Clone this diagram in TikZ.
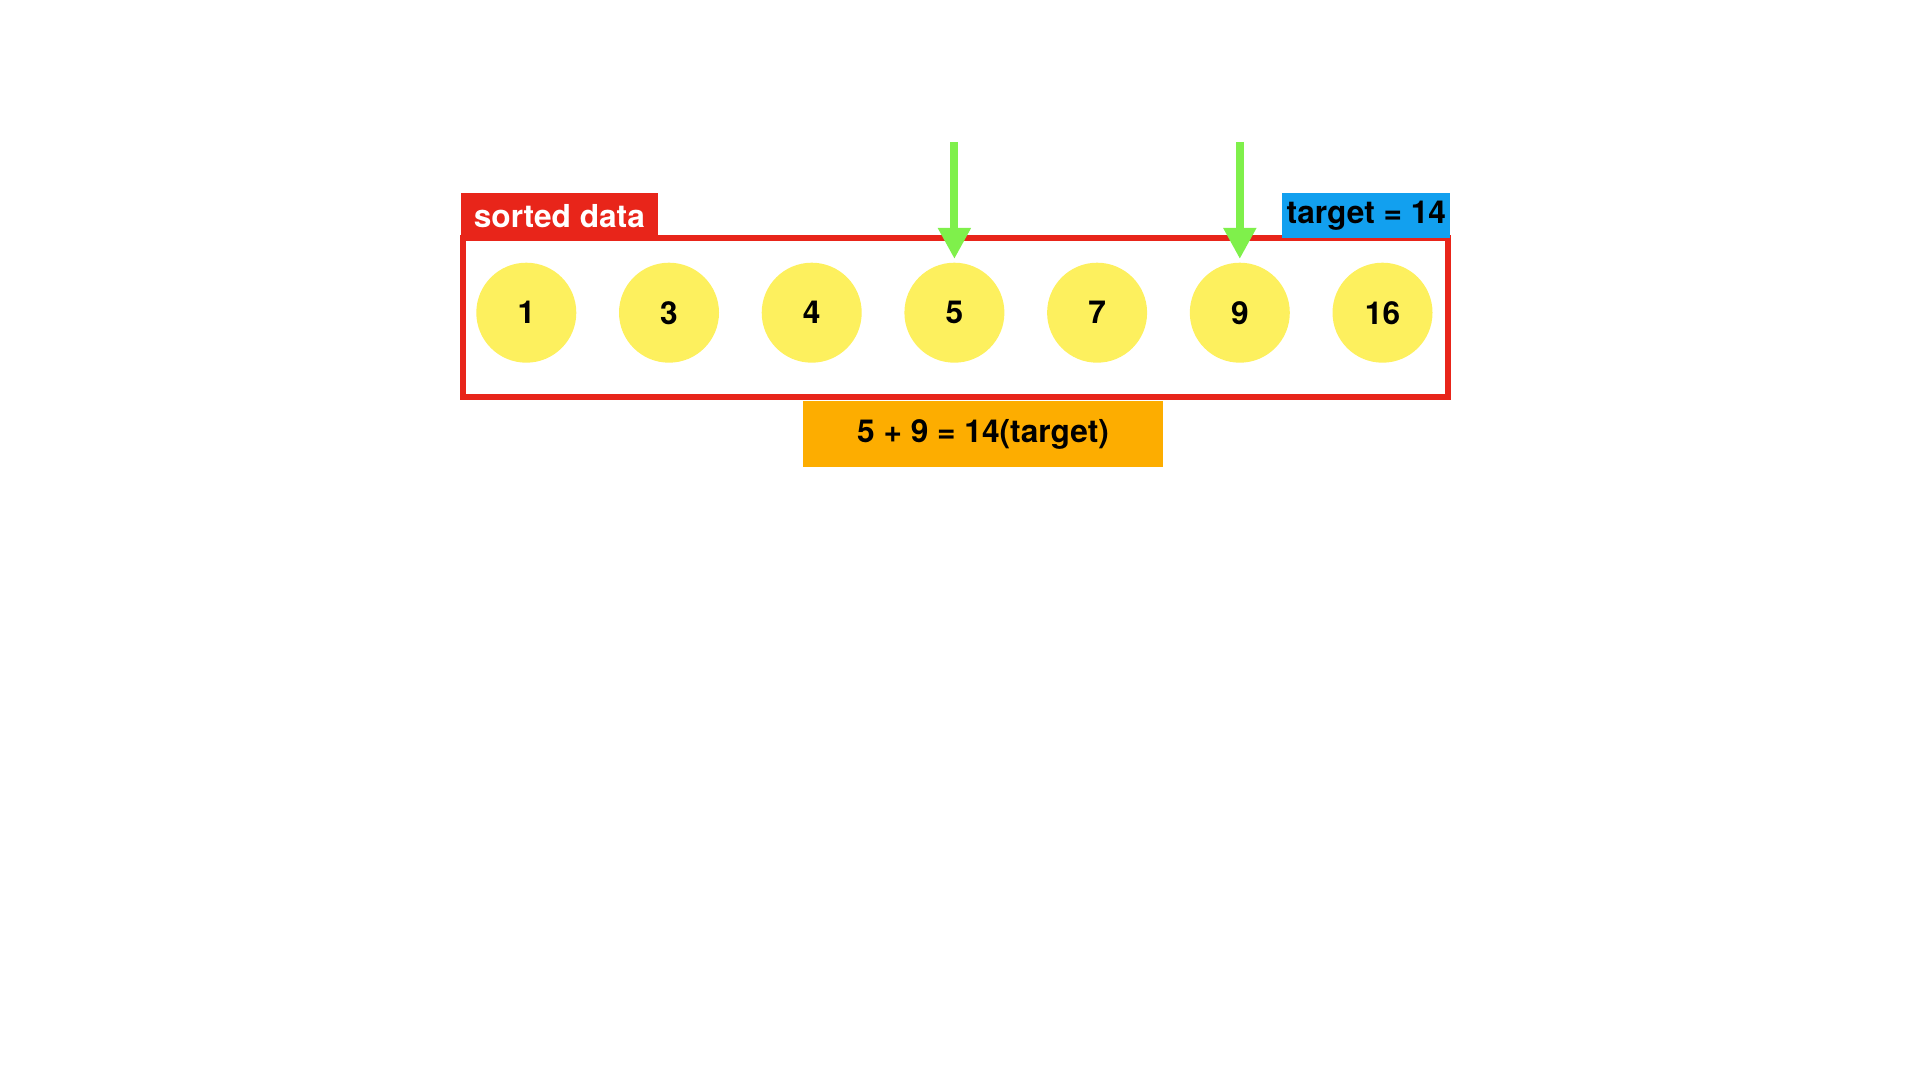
\documentclass[tikz,border=0pt]{standalone}
\usepackage{fontspec}
\setmainfont{TeX Gyre Heros}
\usepackage{tikz}
\usetikzlibrary{arrows.meta, positioning}
\definecolor{pairred}{HTML}{E8251A}
\definecolor{pairyellow}{HTML}{FDF05E}
\definecolor{pairgreen}{HTML}{7FF04B}
\definecolor{pairorange}{HTML}{FDAD00}
\definecolor{pairblue}{HTML}{12A0EF}

\begin{document}
\begin{tikzpicture}[font=\fontsize{9}{11}\selectfont\bfseries,
  ball/.style={circle, fill=pairyellow, minimum size=1cm, inner sep=0pt},
  tag/.style={inner sep=0pt, minimum height=0.45cm},
  pointer/.style={draw=pairgreen, line width=0.08cm, shorten >=0.03cm,
    -{Triangle[length=0.31cm, width=0.31cm]}}]
  \useasboundingbox (0,0) rectangle (19.2,-10.8);
  \def\cx{5.263} % first ball
  \def\dx{1.427} % ball spacing
  \def\cy{-3.127}
  % frame
  \node[draw=pairred, line width=0.06cm, minimum width=9.85cm,
        minimum height=1.59cm, inner sep=0pt] (frame) at (9.555,-3.175) {};
  % balls
  \foreach \i/\val in {1/1, 2/3, 3/4, 4/5, 5/7, 6/9, 7/16}
    \node[ball] (b\i) at ({\cx+(\i-1)*\dx},\cy) {\val};
  % labels
  \node[tag, fill=pairred, text=white, minimum width=1.975cm, anchor=south west]
        (sorted) at ([yshift=-0.04cm]frame.north west) {sorted data};
  \node[tag, fill=pairblue, minimum width=1.68cm, anchor=south east]
        (target) at ([yshift=-0.04cm]frame.north east) {target = 14};
  \node[tag, fill=pairorange, minimum width=3.6cm, minimum height=0.66cm]
        (sum) at (9.83,-4.34) {5 + 9 = 14(target)};
  % pointers
  \coordinate (p1) at ([yshift=1.2cm]b4.north);
  \coordinate (p2) at ([yshift=1.2cm]b6.north);
  \draw[pointer] (p1) -- (b4.north);
  \draw[pointer] (p2) -- (b6.north);
\end{tikzpicture}
\end{document}
